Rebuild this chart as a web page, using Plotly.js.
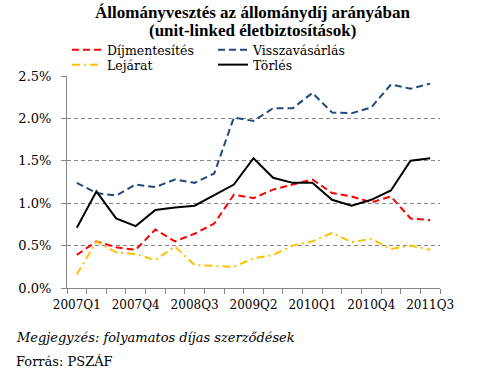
<!DOCTYPE html>
<html>
<head>
<meta charset="utf-8">
<script src="https://cdn.plot.ly/plotly-3.0.1.min.js"></script>
<style>html,body{margin:0;padding:0;background:#fff;}#chart{width:481px;height:381px;}</style>
</head>
<body>
<div id="chart"></div>
<script>
var quarters = ["2007Q1","2007Q2","2007Q3","2007Q4","2008Q1","2008Q2","2008Q3","2008Q4",
  "2009Q1","2009Q2","2009Q3","2009Q4","2010Q1","2010Q2","2010Q3","2010Q4",
  "2011Q1","2011Q2","2011Q3"];
var dijmentesites = [0.39,0.55,0.48,0.45,0.69,0.55,0.64,0.76,1.10,1.06,1.16,1.22,1.28,1.12,1.08,1.01,1.08,0.82,0.80];
var visszavasarlas = [1.24,1.12,1.09,1.22,1.19,1.28,1.24,1.35,2.01,1.97,2.12,2.12,2.30,2.07,2.06,2.13,2.40,2.35,2.41];
var lejarat = [0.16,0.55,0.42,0.40,0.33,0.49,0.27,0.26,0.25,0.35,0.39,0.50,0.55,0.65,0.54,0.58,0.46,0.50,0.45];
var torles = [0.71,1.14,0.82,0.73,0.92,0.95,0.97,1.10,1.22,1.53,1.30,1.24,1.24,1.04,0.97,1.04,1.15,1.50,1.53];
var tickLabels = ["2007Q1","2007Q4","2008Q3","2009Q2","2010Q1","2010Q4","2011Q3"];

function pct(a){ return a.map(function(v){ return v/100; }); }
var serif = "DejaVu Serif";
function py(px){ return (288 - px) / 212; }
function pxx(px){ return (px - 67) / 373; }
var traces = [
  {x: quarters, y: pct(dijmentesites), name: "Díjmentesítés", type: "scatter", mode: "lines",
   legend: "legend", line: {color: "#FF0000", width: 2, dash: "7px,4px"}},
  {x: quarters, y: pct(visszavasarlas), name: "Visszavásárlás", type: "scatter", mode: "lines",
   legend: "legend", line: {color: "#1F497D", width: 2, dash: "7px,4px"}},
  {x: quarters, y: pct(lejarat), name: "Lejárat", type: "scatter", mode: "lines",
   legend: "legend2", line: {color: "#FFC000", width: 2, dash: "8px,4px,2px,4px"}},
  {x: quarters, y: pct(torles), name: "Törlés", type: "scatter", mode: "lines",
   legend: "legend2", line: {color: "#000000", width: 2}}
];
var legendBase = {orientation: "h", x: 0.0, xanchor: "left", yanchor: "top",
  entrywidth: 101, font: {family: serif, size: 12.5}, traceorder: "normal",
  tracegroupgap: 0, itemwidth: 30, bgcolor: "rgba(0,0,0,0)"};
var layout = {
  width: 481, height: 381,
  margin: {l: 67, r: 41, t: 76, b: 93},
  paper_bgcolor: "#fff", plot_bgcolor: "#fff",
  font: {family: serif, size: 12, color: "#000"},
  showlegend: true,
  legend: Object.assign({}, legendBase, {y: py(35)}),
  legend2: Object.assign({}, legendBase, {y: py(50)}),
  xaxis: {type: "category", range: [-0.5, 18.5],
    tickmode: "array", tickvals: quarters, tickangle: 0, ticklabelstandoff: 6,
    ticktext: quarters.map(function(q){ return tickLabels.indexOf(q) >= 0 ? q : ""; }),
    tickson: "boundaries", ticks: "outside", ticklen: 5, tickcolor: "#868686",
    showline: true, linecolor: "#868686", linewidth: 1, showgrid: false, zeroline: false,
    tickfont: {family: serif, size: 12}, fixedrange: true},
  yaxis: {range: [0, 0.025], tickformat: ".1%", dtick: 0.005, tick0: 0,
    ticks: "outside", ticklen: 5, tickcolor: "#868686", ticklabelstandoff: 7,
    showline: true, linecolor: "#868686", linewidth: 1,
    showgrid: true, gridcolor: "#868686", griddash: "4px,3px", gridwidth: 1,
    zeroline: false, tickfont: {family: serif, size: 13}, fixedrange: true},
  annotations: [
    {text: "<b>Állományvesztés az állománydíj arányában</b>", xref: "paper", yref: "paper",
     x: pxx(252.5), xanchor: "center", y: py(12.5), yanchor: "middle", showarrow: false,
     font: {family: "Liberation Serif", size: 17}},
    {text: "<b>(unit-linked életbiztosítások)</b>", xref: "paper", yref: "paper",
     x: pxx(252.5), xanchor: "center", y: py(30.5), yanchor: "middle", showarrow: false,
     font: {family: "Liberation Serif", size: 17}},
    {text: "<i>Megjegyzés: folyamatos díjas szerződések</i>", xref: "paper", yref: "paper",
     x: pxx(14), xanchor: "left", y: py(337), yanchor: "middle", showarrow: false,
     font: {family: serif, size: 13}},
    {text: "Forrás: PSZÁF", xref: "paper", yref: "paper",
     x: pxx(14), xanchor: "left", y: py(361), yanchor: "middle", showarrow: false,
     font: {family: serif, size: 13}}
  ]
};
Plotly.newPlot("chart", traces, layout, {displayModeBar: false, staticPlot: true});
</script>
</body>
</html>
